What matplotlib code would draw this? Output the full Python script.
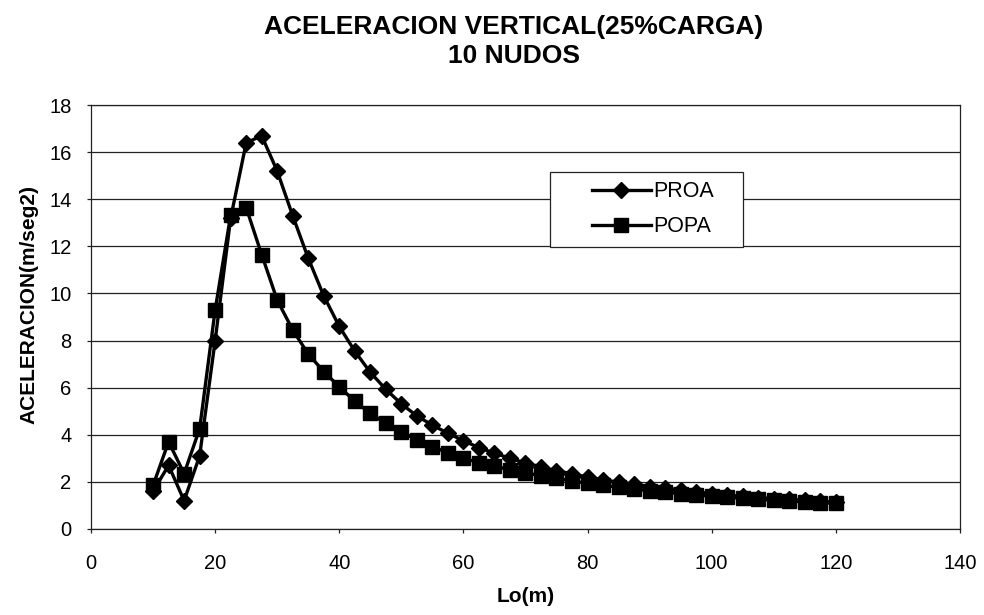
import matplotlib
matplotlib.use('Agg')
import matplotlib.pyplot as plt
from matplotlib.patches import Rectangle
import numpy as np

plt.rcParams['font.family'] = ['Liberation Sans', 'DejaVu Sans']

# eslora Lo (m)
lo = [10, 12.5, 15, 17.5, 20, 22.5, 25, 27.5, 30, 32.5, 35, 37.5, 40, 42.5, 45,
      47.5, 50, 52.5, 55, 57.5, 60, 62.5, 65, 67.5, 70, 72.5, 75, 77.5, 80,
      82.5, 85, 87.5, 90, 92.5, 95, 97.5, 100, 102.5, 105, 107.5, 110, 112.5,
      115, 117.5, 120]

# aceleracion vertical en proa (m/seg2)
proa = [1.6, 2.7, 1.2, 3.1, 8.0, 13.2, 16.4, 16.7, 15.2, 13.3, 11.5, 9.9, 8.6,
        7.55, 6.65, 5.93, 5.31, 4.8, 4.41, 4.06, 3.75, 3.45, 3.22, 3.0, 2.8,
        2.64, 2.47, 2.34, 2.2, 2.08, 1.98, 1.89, 1.8, 1.72, 1.64, 1.56, 1.49,
        1.43, 1.38, 1.33, 1.29, 1.25, 1.21, 1.17, 1.14]

# aceleracion vertical en popa (m/seg2)
popa = [1.85, 3.7, 2.35, 4.25, 9.3, 13.33, 13.65, 11.65, 9.72, 8.45, 7.43,
        6.68, 6.04, 5.42, 4.91, 4.48, 4.13, 3.78, 3.49, 3.24, 3.0, 2.82, 2.66,
        2.52, 2.38, 2.26, 2.15, 2.04, 1.94, 1.85, 1.77, 1.69, 1.62, 1.56, 1.5,
        1.44, 1.39, 1.34, 1.3, 1.26, 1.22, 1.18, 1.15, 1.12, 1.09]

titulo = 'ACELERACION VERTICAL(25%CARGA)\n10 NUDOS'

fig = plt.figure(figsize=[9.84, 6.15], dpi=100)
ax = fig.add_axes([0.0925, 0.14, 0.883, 0.689])

ax.plot(lo, proa, color='black', lw=2.4, marker='D', ms=8.5, label='PROA', zorder=3)
ax.plot(lo, popa, color='black', lw=2.4, marker='s', ms=10.5, label='POPA', zorder=2)

ax.set_xlim(0, 140)
ax.set_ylim(0, 18)
ax.set_xticks(np.arange(0, 141, 20))
ax.set_yticks(np.arange(0, 19, 2))
ax.grid(axis='y', color='#222222', lw=0.9)
ax.set_axisbelow(True)
for s in ax.spines.values():
    s.set_color('#222222')
    s.set_linewidth(0.9)
ax.tick_params(labelsize=14.5, length=3, color='#222222', width=0.9)
ax.tick_params(axis='x', pad=15)
ax.tick_params(axis='y', pad=11)

ax.set_xlabel('Lo(m)', fontsize=15, fontweight='bold')
ax.xaxis.set_label_coords(0.5, -0.138)
ax.set_ylabel('ACELERACION(m/seg2)', fontsize=15, fontweight='bold')
ax.yaxis.set_label_coords(-0.061, 0.53)
fig.text(0.522, 0.933, titulo, ha='center', va='center', fontsize=19,
         fontweight='bold', linespacing=1.25)

# recuadro de la leyenda
ax.add_patch(Rectangle((0.528, 0.666), 0.222, 0.177, transform=ax.transAxes,
                       facecolor='white', edgecolor='#222222', lw=0.9, zorder=4))
leg = ax.legend(loc='center left', bbox_to_anchor=(0.559, 0.7545), fontsize=15.5,
                frameon=False, handlelength=2.75, handletextpad=0.1,
                borderpad=0.2, labelspacing=0.66)
leg.set_zorder(5)

fig.savefig('out.png', dpi=100)
